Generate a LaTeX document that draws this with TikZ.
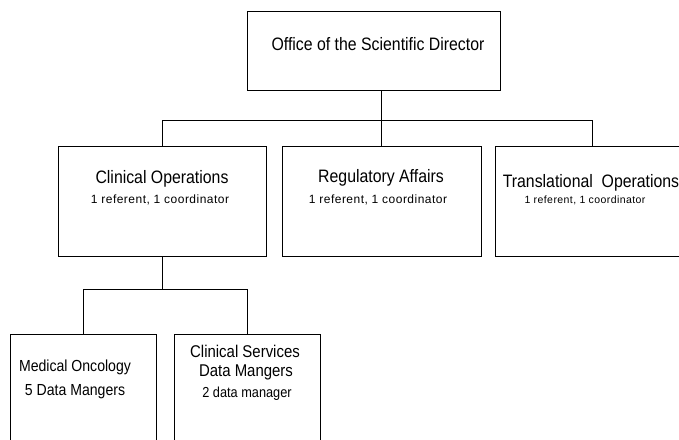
\documentclass[tikz,border=0pt]{standalone}
\usepackage{fontspec}
\setmainfont{Liberation Sans}[FakeStretch=0.88]
\newfontfamily\subfnt{Liberation Sans}[LetterSpace=4]
\begin{document}
\begin{tikzpicture}[x=1pt,y=-1pt,
  box/.style={draw=black,line width=0.9pt,rectangle,inner sep=0pt,fill=white},
  conn/.style={draw=black,line width=0.9pt},
  ttl/.style={inner sep=0pt,anchor=center,font=\fontsize{18}{20}\selectfont},
  sub/.style={inner sep=0pt,anchor=center,font=\subfnt\fontsize{12}{14}\selectfont},
  bttl/.style={inner sep=0pt,anchor=center,font=\fontsize{17}{19}\selectfont},
  bsub/.style={inner sep=0pt,anchor=center,font=\fontsize{14.5}{16}\selectfont}]
\useasboundingbox (0,0) rectangle (679,439);
\clip (0,0) rectangle (679,439);
\fill[white] (0,0) rectangle (679,439);
% boxes
\node[box,minimum width=253pt,minimum height=79pt] (top) at (373.5,50.5) {};
\node[box,minimum width=208pt,minimum height=110pt] (clin) at (162,201) {};
\node[box,minimum width=199pt,minimum height=110pt] (reg) at (381.5,201) {};
\node[box,minimum width=194pt,minimum height=110pt] (trans) at (592,201) {};
\node[box,minimum width=146pt,minimum height=136pt] (med) at (83,402) {};
\node[box,minimum width=146pt,minimum height=136pt] (csd) at (247,402) {};
% texts
\node[ttl] (topt) at (378,44) {Office of the Scientific Director};
\node[ttl] (clint) at (162,179) {Clinical Operations};
\node[sub] (clins) at (160,200) {1 referent, 1 coordinator};
\node[ttl] (regt) at (381,178) {Regulatory Affairs};
\node[sub] (regs) at (378,200) {1 referent, 1 coordinator};
\node[ttl] (transt) at (591,183) {Translational\ \ Operations};
\node[sub,font=\subfnt\fontsize{10.5}{12}\selectfont] (transs) at (585,200) {1 referent, 1 coordinator};
\node[bttl,font=\fontsize{16}{18}\selectfont] (medt) at (75,367) {Medical Oncology};
\node[bsub,font=\fontsize{16}{18}\selectfont] (meds) at (75,392) {5 Data Mangers};
\node[bttl] (csdt) at (245,351) {Clinical Services};
\node[bttl] (csdt2) at (246,372) {Data Mangers};
\node[bsub] (csds) at (247,394) {2 data manager};
% connectors
\coordinate (bar) at (0,120);
\coordinate (bar2) at (0,289);
\draw[conn] (top.south -| reg.north) -- (reg.north);
\draw[conn] (clin.north) |- (bar -| trans.north) -- (trans.north);
\draw[conn] (clin.south) -- (clin.south |- bar2);
\draw[conn] (med.north) |- (bar2 -| csd.north) -- (csd.north);
\end{tikzpicture}
\end{document}
